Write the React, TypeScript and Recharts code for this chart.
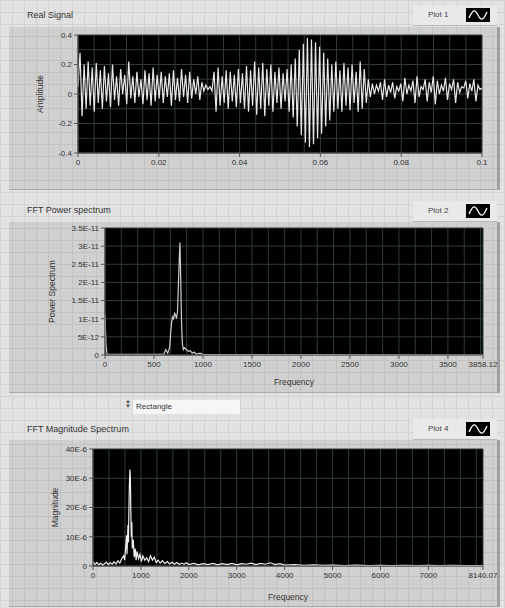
import React from "react";
import { LineChart, Line, XAxis, YAxis, CartesianGrid } from "recharts";

// ---------- Real signal ----------
const SIGNAL_DURATION = 0.1;
const SIGNAL_VALUES = [
  0.05, 0.28, -0.15, 0.2, -0.1, 0.22, -0.08, 0.18, -0.12, 0.21,
  -0.06, 0.16, -0.1, 0.19, -0.05, 0.14, -0.09, 0.2, -0.04, 0.12,
  -0.08, 0.17, 0.0, 0.13, -0.07, 0.22, -0.03, 0.12, -0.06, 0.15,
  -0.02, 0.1, -0.07, 0.16, -0.04, 0.14, -0.08, 0.18, -0.05, 0.13,
  -0.03, 0.15, -0.06, 0.12, -0.02, 0.14, -0.08, 0.16, -0.04, 0.11,
  -0.05, 0.17, -0.02, 0.13, -0.06, 0.15, -0.03, 0.1, 0.0, 0.12,
  -0.04, 0.08, 0.02, 0.06, 0.03, 0.05, 0.02, 0.15, -0.12, 0.18,
  -0.08, 0.12, -0.06, 0.16, -0.1, 0.15, -0.05, 0.13, -0.09, 0.17,
  -0.06, 0.14, -0.1, 0.19, -0.12, 0.16, -0.08, 0.22, -0.14, 0.18,
  -0.1, 0.21, -0.15, 0.17, -0.08, 0.2, -0.12, 0.15, -0.06, 0.18,
  -0.1, 0.14, -0.05, 0.17, -0.12, 0.2, -0.16, 0.24, -0.22, 0.3,
  -0.28, 0.34, -0.33, 0.38, -0.36, 0.37, -0.34, 0.35, -0.3, 0.32,
  -0.27, 0.28, -0.22, 0.24, -0.18, 0.2, -0.12, 0.22, -0.1, 0.16,
  -0.12, 0.21, -0.08, 0.18, -0.11, 0.2, -0.06, 0.15, -0.12, 0.22,
  -0.1, 0.17, -0.06, 0.1, -0.02, 0.07, 0.0, 0.06, 0.02, 0.08,
  -0.04, 0.1, -0.02, 0.06, 0.01, 0.08, -0.03, 0.05, 0.02, 0.07,
  -0.05, 0.11, 0.0, 0.06, 0.02, 0.09, -0.06, 0.12, -0.02, 0.05,
  0.03, 0.1, -0.05, 0.08, 0.01, 0.12, -0.07, 0.09, 0.0, 0.06,
  0.02, 0.11, -0.04, 0.07, 0.03, 0.1, -0.06, 0.08, 0.01, 0.05,
  0.04, 0.09, -0.03, 0.07, 0.02, 0.1, -0.05, 0.06, 0.03, 0.04,
];
const SIGNAL_X_TICKS = [0, 0.02, 0.04, 0.06, 0.08, 0.1];
const SIGNAL_X_LABELS = ["0", "0.02", "0.04", "0.06", "0.08", "0.1"];
const SIGNAL_Y_TICKS = [-0.4, -0.2, 0, 0.2, 0.4];
const SIGNAL_Y_LABELS = ["-0.4", "-0.2", "0", "0.2", "0.4"];

// ---------- FFT power spectrum ----------
const POWER_FREQ = [
  0, 10, 20, 600, 620, 640, 660, 670, 680, 690, 700, 710, 720, 730, 740,
  750, 760, 765, 770, 780, 790, 800, 810, 830, 850, 870, 890, 910, 930, 970,
  1000, 3858.12,
];
const POWER_VALUES_E11 = [
  1.1, 0.3, 0.02, 0.02, 0.15, 0.05, 0.2, 0.6, 0.9, 1.05, 1.0, 1.15, 1.1, 1.0, 1.2,
  2.0, 2.8, 3.1, 2.5, 1.0, 0.3, 0.15, 0.2, 0.15, 0.1, 0.12, 0.05, 0.08, 0.02, 0.05,
  0.01, 0,
];
const POWER_X_TICKS = [0, 500, 1000, 1500, 2000, 2500, 3000, 3500, 3858.12];
const POWER_X_LABELS = ["0", "500", "1000", "1500", "2000", "2500", "3000", "3500", "3858.12"];
const POWER_Y_TICKS = [0, 5e-12, 1e-11, 1.5e-11, 2e-11, 2.5e-11, 3e-11, 3.5e-11];
const POWER_Y_LABELS = ["0", "5E-12", "1E-11", "1.5E-11", "2E-11", "2.5E-11", "3E-11", "3.5E-11"];

// ---------- FFT magnitude spectrum ----------
const MAG_FREQ = [
  0, 40, 80, 120, 160, 200, 240, 280, 320, 360, 400, 440, 480, 520, 560,
  600, 640, 660, 680, 700, 710, 720, 730, 740, 750, 760, 770, 780, 790, 800,
  810, 820, 840, 860, 880, 900, 920, 950, 980, 1010, 1040, 1080, 1120, 1160, 1200,
  1240, 1280, 1320, 1360, 1400, 1450, 1500, 1550, 1600, 1650, 1700, 1750, 1800, 1850, 1900,
  1950, 2000, 2100, 2200, 2300, 2400, 2500, 2600, 2700, 2800, 2900, 3000, 3100, 3200, 3300,
  3400, 3500, 3600, 3700, 3800, 3900, 4000, 4200, 4400, 4600, 4800, 5000, 5250, 5500, 5750,
  6000, 6250, 6500, 6750, 7000, 7250, 7500, 7750, 8000, 8140.07,
];
const MAG_VALUES_E6 = [
  1.5, 0.5, 1.2, 0.4, 1.0, 0.3, 0.8, 1.3, 0.5, 1.1, 0.6, 1.4, 0.7, 1.8, 1.0,
  2.5, 3.5, 2.0, 6.0, 10.5, 4.0, 9.0, 14.0, 8.0, 20.0, 28.0, 33.0, 30.0, 18.0, 10.0,
  15.0, 6.0, 9.0, 3.0, 6.0, 2.0, 5.0, 2.5, 4.0, 1.5, 3.5, 2.0, 2.8, 1.5, 3.5,
  2.0, 3.0, 1.2, 2.0, 1.0, 1.8, 0.8, 1.5, 0.7, 1.3, 0.6, 1.2, 0.5, 1.0, 0.6,
  1.1, 0.5, 0.9, 0.4, 0.8, 0.5, 0.9, 0.4, 0.8, 0.5, 0.9, 0.4, 0.8, 0.6, 1.0,
  0.5, 0.9, 0.6, 1.1, 0.5, 0.8, 0.3, 0.5, 0.2, 0.4, 0.2, 0.3, 0.15, 0.3, 0.15,
  0.25, 0.1, 0.25, 0.15, 0.2, 0.1, 0.2, 0.1, 0.15, 0.1,
];
const MAG_X_TICKS = [0, 1000, 2000, 3000, 4000, 5000, 6000, 7000, 8140.07];
const MAG_X_LABELS = ["0", "1000", "2000", "3000", "4000", "5000", "6000", "7000", "8140.07"];
const MAG_Y_TICKS = [0, 10e-6, 20e-6, 30e-6, 40e-6];
const MAG_Y_LABELS = ["0", "10E-6", "20E-6", "30E-6", "40E-6"];

// ---------- build tables ----------
const signalData = SIGNAL_VALUES.map((v, i) => ({
  t: (i * SIGNAL_DURATION) / (SIGNAL_VALUES.length - 1),
  v,
}));
const powerData = POWER_FREQ.map((f, i) => ({ f, p: POWER_VALUES_E11[i] * 1e-11 }));
const magData = MAG_FREQ.map((f, i) => ({ f, m: MAG_VALUES_E6[i] * 1e-6 }));

const gridValues = (start: number, end: number, step: number) => {
  const out: number[] = [];
  for (let k = 0; start + k * step <= end + step * 1e-6; k++) out.push(+(start + k * step).toPrecision(10));
  return out;
};

const labelFor = (ticks: number[], labels: string[]) => (v: number) => {
  const i = ticks.findIndex((t) => Math.abs(t - v) < 1e-15 + Math.abs(t) * 1e-9);
  return i >= 0 ? labels[i] : String(v);
};

const FONT = "'Liberation Sans', Arial, sans-serif";
const TICK = { fontSize: 8, fill: "#333", fontFamily: FONT };
const AXIS_STROKE = "#555";
const GRID = "#2f3e31";
const LABEL_STYLE = { fontSize: 8.5, fill: "#333", fontFamily: FONT, textAnchor: "middle" as const };

const Legend = ({ top, text }: { top: number; text: string }) => (
  <div
    style={{
      position: "absolute",
      left: 413,
      top,
      width: 84,
      height: 20,
      background: "#e9e9e9",
      borderBottom: "1px solid #b8b8b8",
      fontFamily: FONT,
      fontSize: 8,
      color: "#444",
    }}
  >
    <span style={{ position: "absolute", left: 15, top: 5 }}>{text}</span>
    <svg style={{ position: "absolute", left: 53, top: 3 }} width={24} height={14}>
      <rect x={0} y={0} width={24} height={14} fill="#000" />
      <path d="M3 10 C7 1, 9 1, 12 7 S17 13, 21 4" stroke="#fff" strokeWidth={1.3} fill="none" />
    </svg>
  </div>
);

const Title = ({ top, text }: { top: number; text: string }) => (
  <div
    style={{
      position: "absolute",
      left: 27,
      top,
      fontFamily: FONT,
      fontSize: 9,
      color: "#333",
      whiteSpace: "nowrap",
    }}
  >
    {text}
  </div>
);

const Panel = ({ top, height }: { top: number; height: number }) => (
  <div
    style={{
      position: "absolute",
      left: 9,
      top,
      width: 488,
      height,
      background: "rgba(0,0,0,0.08)",
      borderRight: "3px solid #a0a0a0",
      borderBottom: "1px solid #aaaaaa",
    }}
  />
);

export default function App() {
  return (
    <div
      style={{
        position: "absolute",
        left: 0,
        top: 0,
        width: 505,
        height: 608,
        overflow: "hidden",
        backgroundColor: "#e2e2e2",
        backgroundImage:
          "linear-gradient(#d3d3d3 1px, transparent 1px), linear-gradient(90deg, #d3d3d3 1px, transparent 1px)",
        backgroundSize: "12px 12px",
      }}
    >
      <Panel top={27} height={162} />
      <Panel top={222} height={170} />
      <Panel top={440} height={166} />

      <Title top={10} text="Real Signal" />
      <Legend top={5} text="Plot 1" />
      <Title top={205} text="FFT Power spectrum" />
      <Legend top={201} text="Plot 2" />
      <Title top={424} text="FFT Magnitude Spectrum" />
      <Legend top={419} text="Plot 4" />

      {/* window selector */}
      <div
        style={{
          position: "absolute",
          left: 124,
          top: 399,
          width: 8,
          height: 15,
          fontFamily: FONT,
          fontSize: 6,
          color: "#555",
          lineHeight: "5px",
          textAlign: "center",
        }}
      >
        ▲<br />▼
      </div>
      <div
        style={{
          position: "absolute",
          left: 133,
          top: 400,
          width: 107,
          height: 14,
          background: "#f6f6f6",
          fontFamily: FONT,
          fontSize: 8,
          color: "#333",
          lineHeight: "14px",
          paddingLeft: 3,
          boxSizing: "border-box",
        }}
      >
        Rectangle
      </div>

      {/* Chart 1: Real Signal */}
      <div style={{ position: "absolute", left: 0, top: 0 }}>
        <LineChart width={505} height={190} data={signalData} margin={{ top: 35, right: 23, bottom: 17, left: 30 }}>
          <CartesianGrid xAxisId="g" yAxisId="g" fill="#000" fillOpacity={1} stroke={GRID} />
          <XAxis xAxisId="g" type="number" dataKey="t" domain={[0, 0.1]} ticks={gridValues(0, 0.1, 0.004)} interval={0} hide />
          <YAxis yAxisId="g" type="number" dataKey="v" domain={[-0.4, 0.4]} ticks={gridValues(-0.4, 0.4, 0.1)} interval={0} hide />
          <XAxis
            type="number"
            dataKey="t"
            domain={[0, 0.1]}
            ticks={SIGNAL_X_TICKS}
            interval={0}
            tickFormatter={labelFor(SIGNAL_X_TICKS, SIGNAL_X_LABELS)}
            tick={TICK}
            tickSize={4}
            stroke={AXIS_STROKE}
            height={20}
          />
          <YAxis
            type="number"
            domain={[-0.4, 0.4]}
            ticks={SIGNAL_Y_TICKS}
            interval={0}
            tickFormatter={labelFor(SIGNAL_Y_TICKS, SIGNAL_Y_LABELS)}
            tick={TICK}
            tickSize={4}
            stroke={AXIS_STROKE}
            width={48}
            label={{ value: "Amplitude", angle: -90, position: "insideLeft", offset: 10, style: LABEL_STYLE }}
          />
          <Line type="linear" dataKey="v" stroke="#e8e8e8" strokeWidth={1.2} dot={false} isAnimationActive={false} />
        </LineChart>
      </div>

      {/* Chart 2: FFT Power spectrum */}
      <div style={{ position: "absolute", left: 0, top: 190 }}>
        <LineChart width={505} height={205} data={powerData} margin={{ top: 38, right: 22, bottom: 10, left: 40 }}>
          <CartesianGrid xAxisId="g" yAxisId="g" fill="#000" fillOpacity={1} stroke={GRID} />
          <XAxis xAxisId="g" type="number" dataKey="f" domain={[0, 3858.12]} ticks={gridValues(0, 3858.12, 500 / 3)} interval={0} hide />
          <YAxis yAxisId="g" type="number" dataKey="p" domain={[0, 3.5e-11]} ticks={POWER_Y_TICKS} interval={0} hide />
          <XAxis
            type="number"
            dataKey="f"
            domain={[0, 3858.12]}
            ticks={POWER_X_TICKS}
            interval={0}
            tickFormatter={labelFor(POWER_X_TICKS, POWER_X_LABELS)}
            tick={TICK}
            tickSize={4}
            stroke={AXIS_STROKE}
            height={30}
            label={{ value: "Frequency", position: "insideBottom", offset: 0, style: LABEL_STYLE }}
          />
          <YAxis
            type="number"
            domain={[0, 3.5e-11]}
            ticks={POWER_Y_TICKS}
            interval={0}
            tickFormatter={labelFor(POWER_Y_TICKS, POWER_Y_LABELS)}
            tick={TICK}
            tickSize={4}
            stroke={AXIS_STROKE}
            width={65}
            label={{ value: "Power Spectrum", angle: -90, position: "insideLeft", offset: 12, style: LABEL_STYLE }}
          />
          <Line type="linear" dataKey="p" stroke="#cfcfcf" strokeWidth={1.2} dot={false} isAnimationActive={false} />
        </LineChart>
      </div>

      {/* Chart 3: FFT Magnitude Spectrum */}
      <div style={{ position: "absolute", left: 0, top: 395 }}>
        <LineChart width={505} height={213} data={magData} margin={{ top: 54, right: 22, bottom: 6, left: 45 }}>
          <CartesianGrid xAxisId="g" yAxisId="g" fill="#000" fillOpacity={1} stroke={GRID} />
          <XAxis xAxisId="g" type="number" dataKey="f" domain={[0, 8140.07]} ticks={gridValues(0, 8140.07, 1000 / 3)} interval={0} hide />
          <YAxis yAxisId="g" type="number" dataKey="m" domain={[0, 40e-6]} ticks={MAG_Y_TICKS} interval={0} hide />
          <XAxis
            type="number"
            dataKey="f"
            domain={[0, 8140.07]}
            ticks={MAG_X_TICKS}
            interval={0}
            tickFormatter={labelFor(MAG_X_TICKS, MAG_X_LABELS)}
            tick={TICK}
            tickSize={4}
            stroke={AXIS_STROKE}
            height={36}
            label={{ value: "Frequency", position: "insideBottom", offset: 2, style: LABEL_STYLE }}
          />
          <YAxis
            type="number"
            domain={[0, 40e-6]}
            ticks={MAG_Y_TICKS}
            interval={0}
            tickFormatter={labelFor(MAG_Y_TICKS, MAG_Y_LABELS)}
            tick={TICK}
            tickSize={4}
            stroke={AXIS_STROKE}
            width={48}
            label={{ value: "Magnitude", angle: -90, position: "insideLeft", offset: 10, style: LABEL_STYLE }}
          />
          <Line type="linear" dataKey="m" stroke="#eeeeee" strokeWidth={1.2} dot={false} isAnimationActive={false} />
        </LineChart>
      </div>
    </div>
  );
}
